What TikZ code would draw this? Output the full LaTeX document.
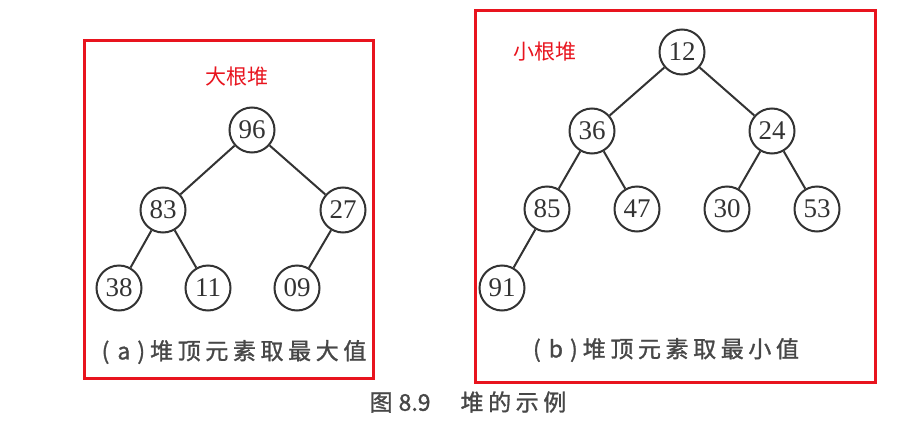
\documentclass[tikz,border=0pt]{standalone}
\usepackage{fontspec}
\setmainfont{Liberation Serif}
\newfontfamily\cjk{Noto Sans CJK SC}
\newfontfamily\cjkcap[LetterSpace=20,FakeBold=1.2]{Noto Sans CJK SC}
\newfontfamily\cjknum[FakeBold=1.2]{Noto Sans CJK SC}
\usetikzlibrary{positioning}
\definecolor{boxred}{HTML}{E8141E}
\definecolor{inkgray}{HTML}{333333}
\definecolor{capgray}{HTML}{474747}
\tikzset{
  heapnode/.style={circle,draw=inkgray,line width=2pt,minimum size=45pt,
    inner sep=0pt,text=inkgray,font=\fontsize{27}{27}\selectfont},
  edge/.style={draw=inkgray,line width=2pt},
  redbox/.style={draw=boxred,line width=3pt},
  redlabel/.style={text=boxred,font=\cjk\fontsize{21}{21}\selectfont},
  sublabel/.style={text=capgray,font=\cjkcap\fontsize{23}{23}\selectfont},
}
\begin{document}
\begin{tikzpicture}[x=1pt,y=-1pt]
\useasboundingbox (0,0) rectangle (911,434);

% (a) max heap
\draw[redbox] (84,40) rectangle (373,378);
\node[redlabel] (maxtitle) at (237,77) {大根堆};
\node[heapnode] (a96) at (252,130) {96};
\node[heapnode] (a83) at (163,210) {83};
\node[heapnode] (a27) at (343,210) {27};
\node[heapnode] (a38) at (119,288) {38};
\node[heapnode] (a11) at (208,288) {11};
\node[heapnode] (a09) at (297,288) {09};
\foreach \u/\v in {a96/a83,a96/a27,a83/a38,a83/a11,a27/a09}
  \draw[edge] (\u) -- (\v);
\node[sublabel] (maxcap) at (234,352) {(\hspace{8pt}a\hspace{7pt})\hspace{5pt}堆顶元素取最大值};

% (b) min heap
\draw[redbox] (475,10) rectangle (875,382);
\node[redlabel] (mintitle) at (545,52) {小根堆};
\node[heapnode] (b12) at (682,52) {12};
\node[heapnode] (b36) at (592,131) {36};
\node[heapnode] (b24) at (772,131) {24};
\node[heapnode] (b85) at (547,209) {85};
\node[heapnode] (b47) at (637,209) {47};
\node[heapnode] (b30) at (727,209) {30};
\node[heapnode] (b53) at (817,209) {53};
\node[heapnode] (b91) at (502,288) {91};
\foreach \u/\v in {b12/b36,b12/b24,b36/b85,b36/b47,b24/b30,b24/b53,b85/b91}
  \draw[edge] (\u) -- (\v);
\node[sublabel] (mincap) at (666,350) {(\hspace{8pt}b\hspace{7pt})\hspace{5pt}堆顶元素取最小值};

% figure caption
\node[sublabel] (figcap) at (468,402) {图\hspace{6pt}{\cjknum 8.9}\hspace{30pt}堆的示例};
\end{tikzpicture}
\end{document}
